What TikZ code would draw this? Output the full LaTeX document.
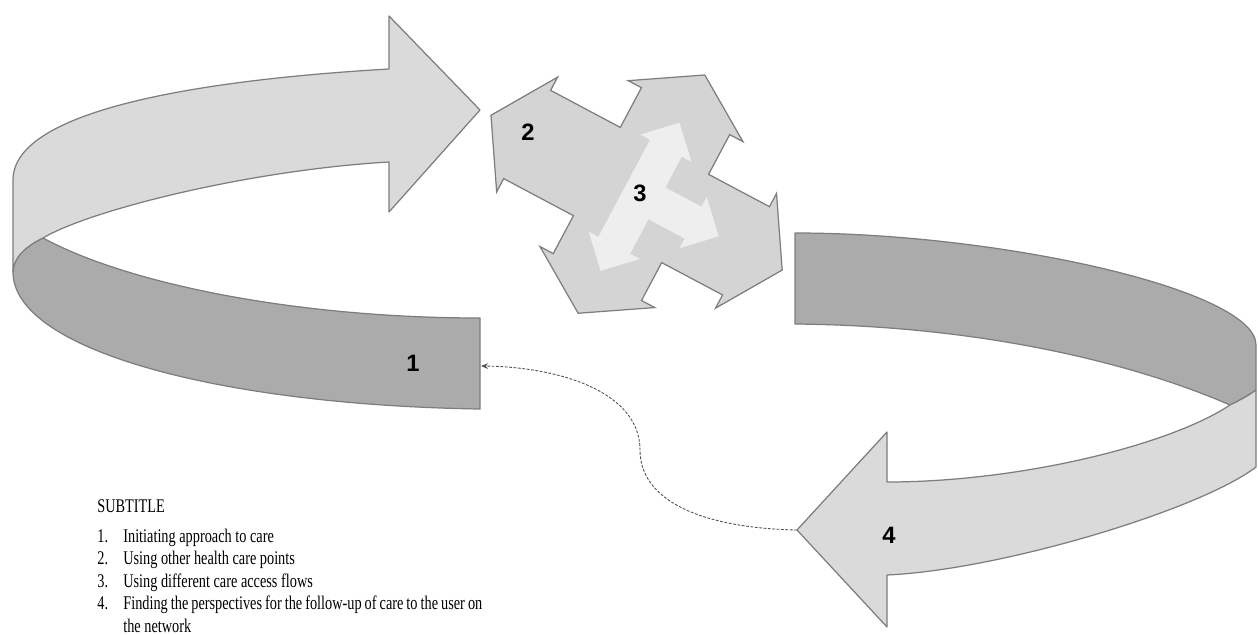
\documentclass[tikz,border=0pt]{standalone}
\usepackage{fontspec}
\setmainfont{Liberation Serif}
\setsansfont{Liberation Sans}
\newfontfamily\legendfont[FakeStretch=0.74]{Liberation Serif}
\usetikzlibrary{arrows.meta}
\definecolor{lightband}{RGB}{218,218,218}
\definecolor{darkband}{RGB}{171,171,171}
\definecolor{stargray}{RGB}{212,212,212}
\definecolor{starlight}{RGB}{238,238,238}
\definecolor{edgegray}{RGB}{125,125,125}
\definecolor{dashgray}{RGB}{80,80,80}
\tikzset{
  lightpart/.style={fill=lightband,draw=edgegray,line width=0.7pt,line join=round},
  darkpart/.style={fill=darkband,draw=edgegray,line width=0.7pt,line join=round},
  starpart/.style={fill=stargray,draw=edgegray,line width=0.7pt,line join=miter},
  innerpart/.style={fill=starlight,draw=none},
  numlabel/.style={font=\sffamily\bfseries\fontsize{13.5}{16}\selectfont,inner sep=0pt},
  legendline/.style={font=\legendfont\fontsize{11}{13}\selectfont,inner sep=0pt,anchor=base west},
  conn/.style={draw=dashgray,line width=0.5pt,dash pattern=on 1.6pt off 0.9pt,-{Stealth[length=4pt,width=3.2pt]}}
}
\begin{document}
\begin{tikzpicture}[x=0.02cm,y=-0.02cm]
\useasboundingbox (0,0) rectangle (1258,635);
\fill[white] (0,0) rectangle (1258,635);

% ---- arrow 1 (left ribbon) ----
\path[darkpart] (43,238) .. controls (130,285) and (300,318) .. (480,318) -- (480,409)
  .. controls (220,405) and (13,350) .. (13,272)
  .. controls (13,258) and (26,246) .. (43,238) -- cycle;
\path[lightpart] (389,69) .. controls (200,80) and (13,110) .. (13,180) -- (13,272)
  .. controls (13,258) and (26,246) .. (43,238)
  .. controls (90,210) and (250,170) .. (389,162) -- (389,212) -- (480,110) -- (389,16) -- cycle;

% ---- arrow 4 (right ribbon) ----
\path[darkpart] (795,233) .. controls (1000,233) and (1256,290) .. (1256,345) -- (1256,390)
  .. controls (1248,396) and (1240,400) .. (1230,405)
  .. controls (1150,370) and (1000,326) .. (795,324) -- cycle;
\path[lightpart] (1230,405) .. controls (1170,445) and (1020,482) .. (887,482) -- (887,432)
  -- (797,530) -- (887,627) -- (887,575)
  .. controls (1000,570) and (1200,510) .. (1256,467) -- (1256,390)
  .. controls (1248,396) and (1240,400) .. (1230,405) -- cycle;

% ---- central quad arrow ----
\begin{scope}[shift={(641,195)},x={(0.01766cm,-0.00938cm)},y={(0.00938cm,0.01766cm)}]
\path[starpart] (50,-50) -- (119,-50) -- (119,-65) -- (160,0) -- (119,65) -- (119,50)
  -- (50,50) -- (50,95) -- (65,95) -- (0,136) -- (-65,95) -- (-50,95)
  -- (-50,50) -- (-129,50) -- (-129,65) -- (-170,0) -- (-129,-65) -- (-129,-50)
  -- (-50,-50) -- (-50,-93) -- (-65,-93) -- (0,-134) -- (65,-93) -- (50,-93) -- cycle;
\path[innerpart] (0,-86) -- (29,-57) -- (18,-57) -- (18,-18) -- (59,-18) -- (59,-29)
  -- (88,0) -- (59,29) -- (59,18) -- (18,18) -- (18,53) -- (29,53) -- (0,82)
  -- (-29,53) -- (-18,53) -- (-18,-57) -- (-29,-57) -- cycle;
\end{scope}

% ---- labels ----
\node[numlabel] (n1) at (413,363) {1};
\node[numlabel] (n2) at (528,132) {2};
\node[numlabel] (n3) at (640,193) {3};
\node[numlabel] (n4) at (889,535) {4};

% ---- dashed connector ----
\coordinate (tip4) at (797,530);
\coordinate (end1) at (481,366);
\draw[conn] (tip4) .. controls (700,528) and (640,500) .. (640,450)
  .. controls (640,392) and (560,367) .. (end1);

% ---- legend ----
\node[legendline] (sub) at (97,512) {SUBTITLE};
\node[legendline] (l1n) at (97,542) {1.};
\node[legendline] (l1) at (123,542) {Initiating approach to care};
\node[legendline] (l2n) at (97,564.5) {2.};
\node[legendline] (l2) at (123,564.5) {Using other health care points};
\node[legendline] (l3n) at (97,587) {3.};
\node[legendline] (l3) at (123,587) {Using different care access flows};
\node[legendline] (l4n) at (97,609.5) {4.};
\node[legendline] (l4) at (123,609.5) {\makebox[7.18cm][s]{Finding the perspectives for the follow-up of care to the user on}};
\node[legendline] (l4b) at (123,632) {the network};
\end{tikzpicture}
\end{document}
